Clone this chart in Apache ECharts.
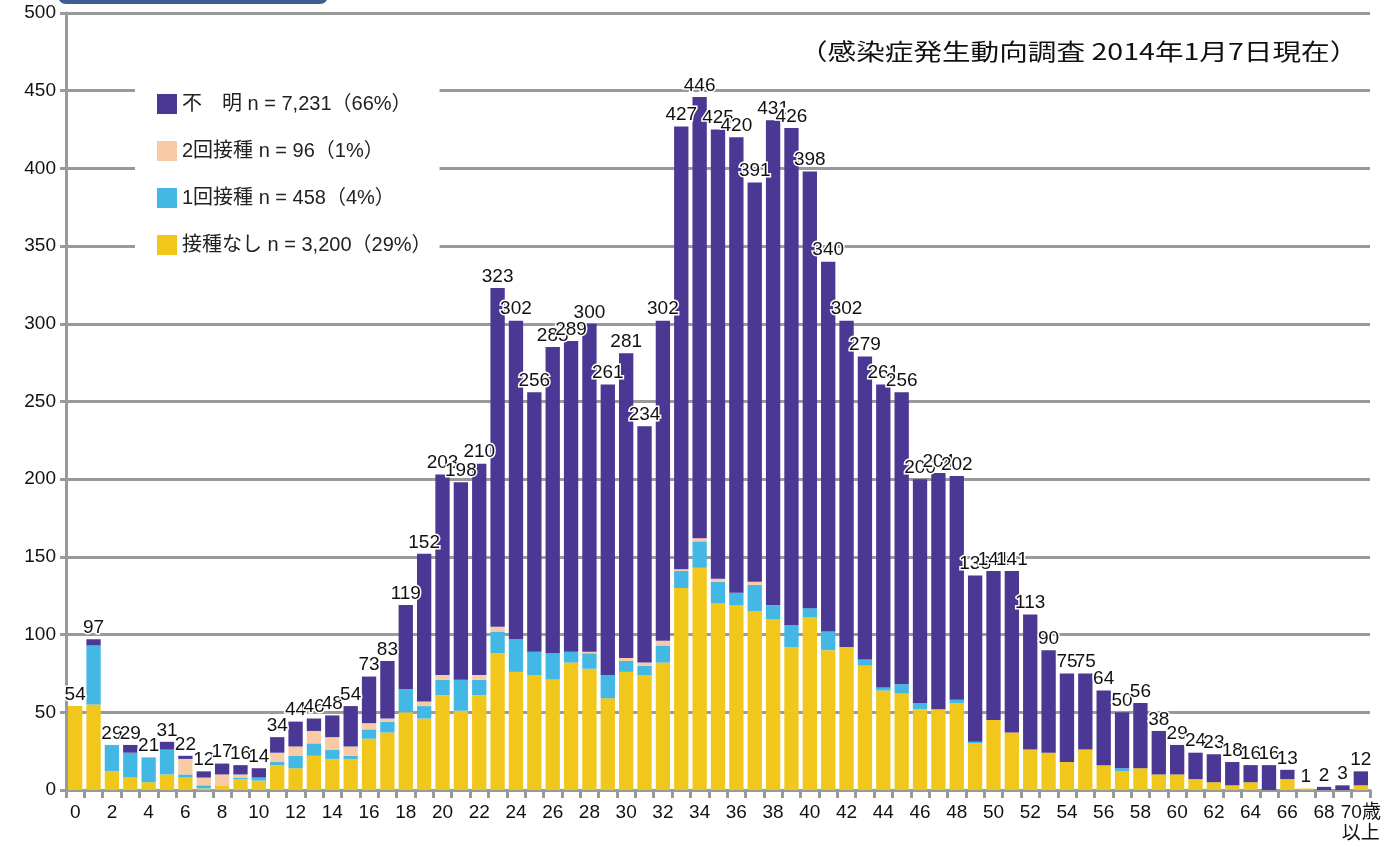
<!DOCTYPE html>
<html>
<head>
<meta charset="utf-8">
<script src="https://cdn.jsdelivr.net/npm/echarts@6/dist/echarts.min.js"></script>
<style>
html,body{margin:0;padding:0;background:#fff;}
#c{width:1397px;height:847px;}
</style>
</head>
<body>
<div id="c"></div>
<script>
// ---- Data ----
const ages = ['0','1','2','3','4','5','6','7','8','9','10','11','12','13','14','15','16','17','18','19',
  '20','21','22','23','24','25','26','27','28','29','30','31','32','33','34','35','36','37','38','39',
  '40','41','42','43','44','45','46','47','48','49','50','51','52','53','54','55','56','57','58','59',
  '60','61','62','63','64','65','66','67','68','69','70歳\n以上'];

const totals = [54,97,29,29,21,31,22,12,17,16,14,34,44,46,48,54,73,83,119,152,
  203,198,210,323,302,256,285,289,300,261,281,234,302,427,446,425,420,391,431,426,
  398,340,302,279,261,256,200,204,202,138,141,141,113,90,75,75,64,50,56,38,
  29,24,23,18,16,16,13,1,2,3,12];

const noVaccine = [54,55,12,8,5,10,8,1,3,7,6,16,14,22,20,20,33,37,50,46,
  61,51,61,88,76,74,71,82,78,59,76,74,82,130,143,120,119,115,110,92,
  111,90,92,80,64,62,52,52,56,30,45,37,26,24,18,26,16,12,14,10,
  10,7,5,3,5,0,7,1,0,0,3];

const oneDose = [0,38,17,16,16,16,2,2,0,1,2,2,8,8,6,2,6,7,15,8,
  10,20,10,14,21,15,17,7,10,15,7,6,11,11,17,14,8,17,9,14,
  6,12,0,4,2,6,4,0,2,1,0,0,0,0,0,0,0,2,0,0,
  0,0,0,0,0,0,0,0,0,0,0];

const twoDose = [0,0,0,0,0,0,10,5,7,2,0,6,6,8,8,6,4,2,0,3,
  3,0,3,3,0,0,0,0,1,0,2,2,3,1,2,2,0,2,0,0,
  0,0,0,0,0,0,0,0,0,0,0,0,0,0,0,0,0,0,0,0,
  0,0,0,0,0,0,0,0,0,0,0];

const unknown = [0,4,0,5,0,5,2,4,7,6,6,10,16,8,14,26,30,37,54,95,
  129,127,136,218,205,167,197,200,211,187,196,152,206,285,284,289,293,257,312,320,
  281,238,210,195,195,188,144,152,144,107,96,104,87,66,57,49,48,36,42,28,
  19,17,18,15,11,16,6,0,2,3,9];

const seriesNames = ['接種なし','1回接種','2回接種','不明'];
const legendText = {
  '不明': '不　明 n = 7,231（66%）',
  '2回接種': '2回接種 n = 96（1%）',
  '1回接種': '1回接種 n = 458（4%）',
  '接種なし': '接種なし n = 3,200（29%）'
};
const yTicks = {min: 0, max: 500, interval: 50};
const noteText = '（感染症発生動向調査 2014年1月7日現在）';

// ---- Chart ----
const colors = {'接種なし':'#F2C71C','1回接種':'#43B8E4','2回接種':'#F8CBA5','不明':'#4B3794'};
const valuesByName = {'接種なし':noVaccine,'1回接種':oneDose,'2回接種':twoDose,'不明':unknown};
const gray = '#9a9a9a';
const latin = 'Liberation Sans, Arial, Noto Sans CJK JP, sans-serif';

const series = seriesNames.map(function(name){
  const s = {
    name: name,
    type: 'bar',
    stack: 'total',
    data: valuesByName[name],
    barCategoryGap: '22%',
    itemStyle: {color: colors[name]},
    emphasis: {disabled: true}
  };
  if (name === '不明') {
    s.label = {
      show: true,
      position: 'top',
      distance: 2,
      formatter: function(p){ return String(totals[p.dataIndex]); },
      fontFamily: latin,
      fontSize: 19,
      color: '#111',
      textBorderColor: '#fff',
      textBorderWidth: 3
    };
  }
  return s;
});

const chart = echarts.init(document.getElementById('c'), null, {renderer: 'canvas'});
chart.setOption({
  animation: false,
  backgroundColor: '#fff',
  grid: {left: 66, right: 27, top: 13, bottom: 57, containLabel: false},
  legend: {
    orient: 'vertical',
    left: 135,
    top: 84,
    padding: [10, 8, 10, 22],
    backgroundColor: '#fff',
    itemGap: 27,
    itemWidth: 20,
    itemHeight: 20,
    icon: 'rect',
    data: ['不明','2回接種','1回接種','接種なし'],
    formatter: function(n){ return legendText[n]; },
    textStyle: {fontFamily: latin, fontSize: 20, color: '#222'},
    selectedMode: false
  },
  xAxis: {
    type: 'category',
    data: ages,
    axisLine: {show: true, lineStyle: {color: gray, width: 3}},
    axisTick: {show: true, interval: 0, length: 8, lineStyle: {color: gray, width: 3}},
    axisLabel: {interval: 1, fontFamily: latin, fontSize: 19, color: '#111', margin: 12, lineHeight: 21}
  },
  yAxis: {
    type: 'value',
    min: yTicks.min,
    max: yTicks.max,
    interval: yTicks.interval,
    axisLine: {show: true, lineStyle: {color: gray, width: 3}},
    axisTick: {show: true, length: 6, lineStyle: {color: gray, width: 3}},
    axisLabel: {fontFamily: latin, fontSize: 19, color: '#111', margin: 10},
    splitLine: {show: true, lineStyle: {color: gray, width: 3}}
  },
  graphic: [
    {
      type: 'rect',
      shape: {x: 58, y: -14, width: 270, height: 18, r: 8},
      style: {fill: '#3D5F8E'},
      z: 100
    },
    {
      type: 'text',
      x: 799,
      y: 40,
      scaleX: 1.1,
      scaleY: 0.88,
      style: {
        text: noteText,
        font: '26px "Noto Sans CJK JP", sans-serif',
        fill: '#111',
        textAlign: 'left',
        textVerticalAlign: 'top'
      },
      z: 100
    }
  ],
  series: series
});
</script>
</body>
</html>
